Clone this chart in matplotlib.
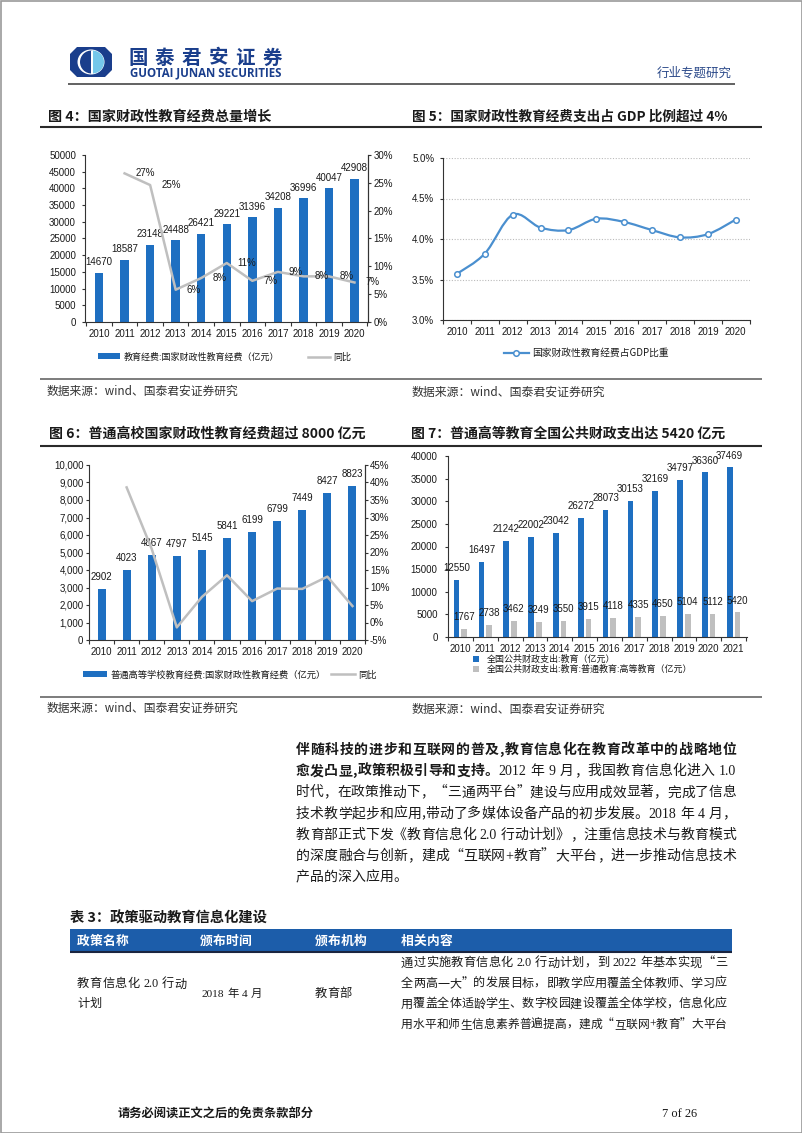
import re
import numpy as np
import matplotlib
matplotlib.use('Agg')
import matplotlib.pyplot as plt
from matplotlib.patches import Rectangle, Polygon, Ellipse, Wedge, PathPatch
from matplotlib.path import Path
from matplotlib.lines import Line2D
from matplotlib.ticker import FuncFormatter

# ---------------- data ----------------
years_2010_2020 = ['2010', '2011', '2012', '2013', '2014', '2015', '2016', '2017', '2018', '2019', '2020']
years_2010_2021 = ['2010', '2011', '2012', '2013', '2014', '2015', '2016', '2017', '2018', '2019', '2020', '2021']

fig4_spend = [14670, 18587, 23148, 24488, 26421, 29221, 31396, 34208, 36996, 40047, 42908]
fig4_growth = [26.7, 24.6, 5.8, 7.9, 10.6, 7.4, 9.0, 8.2, 8.2, 7.1]          # 2011-2020
fig5_share = [3.57, 3.82, 4.30, 4.14, 4.11, 4.25, 4.21, 4.11, 4.02, 4.06, 4.24]
fig6_spend = [2902, 4023, 4867, 4797, 5145, 5841, 6199, 6799, 7449, 8427, 8823]
fig6_growth = [38.6, 21.0, -1.4, 7.3, 13.5, 6.1, 9.7, 9.6, 13.1, 4.7]         # 2011-2020
fig7_edu = [12550, 16497, 21242, 22002, 23042, 26272, 28073, 30153, 32169, 34797, 36360, 37469]
fig7_higher = [1767, 2738, 3462, 3249, 3550, 3915, 4118, 4335, 4650, 5104, 5112, 5420]

fig4_labels = ['教育经费:国家财政性教育经费（亿元）', '同比']
fig5_labels = ['国家财政性教育经费占GDP比重']
fig6_labels = ['普通高等学校教育经费:国家财政性教育经费（亿元）', '同比']
fig7_labels = ['全国公共财政支出:教育（亿元）', '全国公共财政支出:教育:普通教育:高等教育（亿元）']

# ---------------- setup ----------------
CJK = ['Noto Sans CJK SC', 'DejaVu Sans']
NUM = ['Liberation Sans', 'Noto Sans CJK SC', 'DejaVu Sans']
SERIF = ['Liberation Serif', 'DejaVu Serif']
plt.rcParams['font.family'] = NUM

BLUE = '#1E6FC1'
GRAY = '#BFBFBF'
LBLUE = '#4A8FCF'
AX = '#333333'
NAVY = '#1A3E8C'
TXT = '#1a1a1a'

W, H = 802, 1133
fig = plt.figure(figsize=(W / 100, H / 100), dpi=100)
fig.patch.set_facecolor('white')
bg = fig.add_axes([0, 0, 1, 1])
bg.set_xlim(0, W)
bg.set_ylim(H, 0)
bg.axis('off')
renderer = fig.canvas.get_renderer()

_cache = {}


def tok_w(tok, fs, weight, fam):
    key = (tok, fs, weight, tuple(fam))
    if key not in _cache:
        if tok == ' ':
            _cache[key] = 0.25 * fs * 100 / 72
        else:
            t = bg.text(0, 0, tok, fontsize=fs, fontweight=weight, family=fam)
            _cache[key] = t.get_window_extent(renderer).width
            t.remove()
    return _cache[key]


def tokenize(s):
    return re.findall(r'[A-Za-z0-9.+%]+| |.', s)


def line_text(segments, x0, x1, yc, fs, justify=True, color=TXT, latin_serif=True):
    items = []
    for text, weight in segments:
        for tok in tokenize(text):
            if latin_serif and re.fullmatch(r'[A-Za-z0-9.+%]+', tok):
                fam = SERIF
            else:
                fam = CJK
            items.append((tok, weight, fam))
    widths = [tok_w(t, fs, w, f) for t, w, f in items]
    natural = sum(widths)
    target = x1 - x0
    scale, gap = 1.0, 0.0
    if justify and len(items) > 1:
        gap = (target - natural) / (len(items) - 1)
        if gap < 0:
            scale = target / natural
            gap = 0.0
    f2 = fs * scale
    base = yc + 0.36 * f2 * 100 / 72
    x = x0
    for (tok, weight, fam), w in zip(items, widths):
        if tok != ' ':
            bg.text(x, base, tok, fontsize=f2, fontweight=weight, family=fam,
                    color=color, va='baseline', ha='left')
        x += w * scale + gap


def fit_text(s, x0, x1, yc, weight='normal', fam=CJK, color=TXT, base_fs=10):
    w = tok_w(s, base_fs, weight, fam)
    fs = base_fs * (x1 - x0) / w
    bg.text(x0, yc + 0.36 * fs * 100 / 72, s, fontsize=fs, fontweight=weight,
            family=fam, color=color, va='baseline', ha='left')


def hline(y, x0, x1, color='#333333', lw=1.2):
    bg.plot([x0, x1], [y, y], color=color, lw=lw, solid_capstyle='butt')


def px_axes(x0, y0, x1, y1):
    return fig.add_axes([x0 / W, 1 - y1 / H, (x1 - x0) / W, (y1 - y0) / H])


def style(ax, labels, ylen=2.5, ypad=4, xpad=5):
    n = len(labels)
    ax.spines['top'].set_visible(False)
    for s in ax.spines.values():
        s.set_color(AX)
        s.set_linewidth(0.8)
    ax.set_xticks(np.arange(n + 1) - 0.5)
    ax.set_xticklabels([])
    ax.set_xticks(np.arange(n), minor=True)
    ax.set_xticklabels(labels, minor=True)
    ax.tick_params(axis='x', which='major', length=3, width=0.8, direction='out', color=AX)
    ax.tick_params(axis='x', which='minor', length=0, pad=xpad, labelsize=7, labelcolor=TXT)
    ax.tick_params(axis='y', length=ylen, width=0.8, color=AX, pad=ypad, labelsize=7, labelcolor=TXT)
    ax.patch.set_alpha(0)


pct0 = FuncFormatter(lambda v, p: f'{v:.0f}%')

# ---------------- page frame & header ----------------
bg.add_patch(Rectangle((0.5, 0.5), W - 1, H - 1, fill=False, ec='#9a9a9a', lw=1.2))

# logo
oct_pts = [(77, 47), (105, 47), (112, 54), (112, 70), (105, 77), (77, 77), (70, 70), (70, 54)]
bg.add_patch(Polygon(oct_pts, closed=True, fc=NAVY, ec='none'))
bg.add_patch(Ellipse((91, 62), 27, 25, fc='white', ec='none'))
bg.add_patch(Wedge((91.5, 62), 11.5, 90, 270, fc=NAVY, ec='none'))
bg.add_patch(Wedge((92.5, 62), 11.5, -90, 90, fc='#74C7EA', ec='none'))
bg.add_patch(Rectangle((91, 50.5), 1.6, 23, fc='white', ec='none'))
line_text([('国泰君安证券', 'bold')], 128, 282, 56.5, 14, color=NAVY)
fit_text('GUOTAI JUNAN SECURITIES', 130, 282, 72.7, weight='bold',
         fam=['Open Sans', 'DejaVu Sans'], color=NAVY)
fit_text('行业专题研究', 657, 732, 72, color='#2C4A8A')
hline(84, 68, 735, color='#555555', lw=1.3)

# section titles
fit_text('图 4：国家财政性教育经费总量增长', 48, 271, 116, weight='bold')
fit_text('图 5：国家财政性教育经费支出占 GDP 比例超过 4%', 412, 727, 116, weight='bold')
hline(127, 40, 762, color='#2a2a2a', lw=1.5)
hline(379, 40, 762, color='#666666', lw=1.2)
fit_text('数据来源：wind、国泰君安证券研究', 47, 239, 391, color='#333333')
fit_text('数据来源：wind、国泰君安证券研究', 411, 605, 391, color='#333333')

fit_text('图 6：普通高校国家财政性教育经费超过 8000 亿元', 49, 365, 433, weight='bold')
fit_text('图 7：普通高等教育全国公共财政支出达 5420 亿元', 411, 726, 433, weight='bold')
hline(446, 40, 762, color='#2a2a2a', lw=1.5)
hline(697, 40, 762, color='#666666', lw=1.2)
fit_text('数据来源：wind、国泰君安证券研究', 47, 239, 708, color='#333333')
fit_text('数据来源：wind、国泰君安证券研究', 411, 605, 708, color='#333333')

# ---------------- chart 1 (图4) ----------------
ax1 = px_axes(85, 155, 368, 322)
x = np.arange(len(years_2010_2020))
b1 = ax1.bar(x, fig4_spend, width=0.33, color=BLUE, zorder=2)
ax1.bar_label(b1, padding=4, fontsize=7, color=TXT)
ax1.set_xlim(-0.55, 10.53)
ax1.set_ylim(0, 50000)
ax1.set_yticks(range(0, 50001, 5000))
style(ax1, years_2010_2020, ypad=4)
ax1b = ax1.twinx()
ln1, = ax1b.plot(x[1:], fig4_growth, color=GRAY, lw=1.8)
ax1b.set_ylim(0, 30)
ax1b.set_yticks(range(0, 31, 5))
ax1b.yaxis.set_major_formatter(pct0)
for s in ['top', 'left', 'bottom']:
    ax1b.spines[s].set_visible(False)
ax1b.spines['right'].set_color(AX)
ax1b.spines['right'].set_linewidth(0.8)
ax1b.tick_params(axis='y', length=2.5, width=0.8, color=AX, pad=1.5, labelsize=7, labelcolor=TXT)
for xi, g in zip(x[1:], fig4_growth):
    ax1b.annotate(f'{g:.0f}%', (xi, g), xytext=(11, 0), textcoords='offset pixels',
                  ha='left', va='center', fontsize=7, color=TXT)
fig.legend([b1, ln1], fig4_labels, loc='center', bbox_to_anchor=(224.5 / W, 1 - 357 / H),
           bbox_transform=fig.transFigure, ncol=2, frameon=False, prop=dict(family=CJK, size=6.5),
           handlelength=2.5, handleheight=0.65, handletextpad=0.35, columnspacing=3.2,
           borderpad=0, labelcolor=TXT)

# ---------------- chart 2 (图5) ----------------
ax2 = px_axes(443, 158, 750, 320)
x2 = np.arange(len(years_2010_2020))
ax2.set_xlim(-0.47, 10.51)
ax2.set_ylim(3.0, 5.0)
ax2.set_yticks([3.0, 3.5, 4.0, 4.5, 5.0])
ax2.yaxis.set_major_formatter(FuncFormatter(lambda v, p: f'{v:.1f}%'))
style(ax2, years_2010_2020, ypad=3.8)
ax2.spines['right'].set_visible(False)
ax2.grid(axis='y', color='#BBBBBB', ls=(0, (1, 1.5)), lw=0.8)
ax2.set_axisbelow(True)
# smooth (Catmull-Rom style Bezier) line through the data points
pts = np.column_stack([x2, fig5_share]).astype(float)
ext = np.vstack([pts[0], pts, pts[-1]])
verts = [tuple(pts[0])]
codes = [Path.MOVETO]
for i in range(len(pts) - 1):
    p0, p1, p2, p3 = ext[i], ext[i + 1], ext[i + 2], ext[i + 3]
    c1 = p1 + (p2 - p0) / 6.0
    c2 = p2 - (p3 - p1) / 6.0
    verts += [tuple(c1), tuple(c2), tuple(p2)]
    codes += [Path.CURVE4, Path.CURVE4, Path.CURVE4]
ax2.add_patch(PathPatch(Path(verts, codes), fill=False, ec=LBLUE, lw=1.6, zorder=3))
ax2.plot(x2, fig5_share, 'o', ms=4, mfc='white', mec=LBLUE, mew=1.1, zorder=4)
h2 = Line2D([], [], color=LBLUE, lw=1.6, marker='o', ms=4, mfc='white', mec=LBLUE, mew=1.1)
fig.legend([h2], fig5_labels, loc='center', bbox_to_anchor=(586.5 / W, 1 - 353 / H),
           bbox_transform=fig.transFigure, frameon=False, prop=dict(family=CJK, size=7),
           handlelength=2.6, handletextpad=0.35, borderpad=0, labelcolor=TXT)

# ---------------- chart 3 (图6) ----------------
ax3 = px_axes(89, 465, 365, 640)
x3 = np.arange(len(years_2010_2020))
b3 = ax3.bar(x3, fig6_spend, width=0.32, color=BLUE, zorder=2)
ax3.bar_label(b3, padding=5, fontsize=7, color=TXT)
ax3.set_xlim(-0.49, 10.46)
ax3.set_ylim(0, 10000)
ax3.set_yticks(range(0, 10001, 1000))
ax3.yaxis.set_major_formatter(FuncFormatter(lambda v, p: f'{v:,.0f}'))
style(ax3, years_2010_2020, ypad=1.5)
ax3b = ax3.twinx()
ln3, = ax3b.plot(x3[1:], fig6_growth, color=GRAY, lw=1.8)
ax3b.set_ylim(-5, 45)
ax3b.set_yticks(range(-5, 46, 5))
ax3b.yaxis.set_major_formatter(pct0)
for s in ['top', 'left', 'bottom']:
    ax3b.spines[s].set_visible(False)
ax3b.spines['right'].set_color(AX)
ax3b.spines['right'].set_linewidth(0.8)
ax3b.tick_params(axis='y', length=2.5, width=0.8, color=AX, pad=1.0, labelsize=7, labelcolor=TXT)
fig.legend([b3, ln3], fig6_labels, loc='center', bbox_to_anchor=(230 / W, 1 - 675 / H),
           bbox_transform=fig.transFigure, ncol=2, frameon=False, prop=dict(family=CJK, size=6.7),
           handlelength=2.6, handleheight=0.65, handletextpad=0.35, columnspacing=0.6,
           borderpad=0, labelcolor=TXT)

# ---------------- chart 4 (图7) ----------------
ax4 = px_axes(448, 456, 747, 637)
x4 = np.arange(len(years_2010_2021))
b4a = ax4.bar(x4 - 0.155, fig7_edu, width=0.23, color=BLUE, zorder=2)
b4b = ax4.bar(x4 + 0.155, fig7_higher, width=0.23, color=GRAY, zorder=2)
ax4.bar_label(b4a, padding=5, fontsize=7, color=TXT)
ax4.bar_label(b4b, padding=5, fontsize=7, color=TXT)
ax4.set_xlim(-0.5, 11.54)
ax4.set_ylim(0, 40000)
ax4.set_yticks(range(0, 40001, 5000))
style(ax4, years_2010_2021, ypad=5)
ax4.spines['right'].set_visible(False)
fig.legend([b4a, b4b], fig7_labels, loc='center', bbox_to_anchor=(582.5 / W, 1 - 664.5 / H),
           bbox_transform=fig.transFigure, ncol=1, frameon=False, prop=dict(family=CJK, size=6.5),
           handlelength=0.7, handleheight=0.7, handletextpad=0.9, labelspacing=0.05,
           borderpad=0, labelcolor=TXT)

# ---------------- paragraph ----------------
para = [
    [('伴随科技的进步和互联网的普及,教育信息化在教育改革中的战略地位', 'bold')],
    [('愈发凸显,政策积极引导和支持。', 'bold'), ('2012 年 9 月，我国教育信息化进入 1.0', 'normal')],
    [('时代，在政策推动下，“三通两平台”建设与应用成效显著，完成了信息', 'normal')],
    [('技术教学起步和应用,带动了多媒体设备产品的初步发展。2018 年 4 月，', 'normal')],
    [('教育部正式下发《教育信息化 2.0 行动计划》，注重信息技术与教育模式', 'normal')],
    [('的深度融合与创新，建成“互联网+教育”大平台，进一步推动信息技术', 'normal')],
    [('产品的深入应用。', 'normal')],
]
for i, segs in enumerate(para):
    line_text(segs, 296, 736, 749 + 21.2 * i, 10, justify=(i < len(para) - 1))

# ---------------- table ----------------
fit_text('表 3：政策驱动教育信息化建设', 70, 267, 917, weight='bold')
bg.add_patch(Rectangle((70, 929), 662, 22, fc='#1C5DAA', ec='none'))
hline(951.5, 70, 732, color='#1a2540', lw=1.5)
for txt, x0 in [('政策名称', 77), ('颁布时间', 200), ('颁布机构', 315), ('相关内容', 401)]:
    line_text([(txt, 'bold')], x0, x0 + 51, 940, 9.2, justify=True, color='white')
line_text([('教育信息化 2.0 行动', 'normal')], 77, 187, 983, 8.8)
line_text([('计划', 'normal')], 77, 110, 1003, 8.8, justify=False)
line_text([('2018 年 4 月', 'normal')], 202, 262, 993, 8.8)
line_text([('教育部', 'normal')], 315, 352, 993, 8.8)
content = [
    '通过实施教育信息化 2.0 行动计划，到 2022 年基本实现“三',
    '全两高一大”的发展目标，即教学应用覆盖全体教师、学习应',
    '用覆盖全体适龄学生、数字校园建设覆盖全体学校，信息化应',
    '用水平和师生信息素养普遍提高，建成“互联网+教育”大平台',
]
for i, s in enumerate(content):
    line_text([(s, 'normal')], 401, 727, 962 + 20.5 * i, 8.8)

# ---------------- footer ----------------
fit_text('请务必阅读正文之后的免责条款部分', 118, 314, 1113, weight='bold')
fit_text('7 of 26', 662, 697, 1113, fam=SERIF)

fig.savefig('out.png', dpi=100, facecolor='white')
